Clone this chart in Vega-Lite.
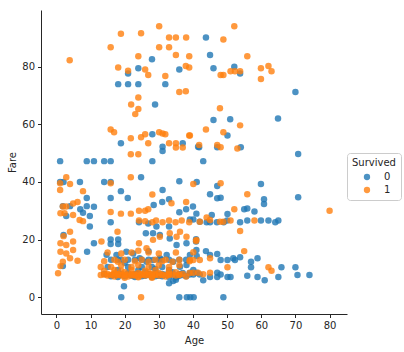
{
"$schema": "https://vega.github.io/schema/vega-lite/v6.json",
"autosize": "none",
"width": 306, "height": 304,
"padding": {"left": 41, "top": 10, "right": 57, "bottom": 38},
"config": {"font": "DejaVu Sans", "view": {"stroke": null}},
"data": {"values": [
{"Age":28,"Fare":82.5,"Survived":"0"},{"Age":21,"Fare":77.6,"Survived":"0"},{"Age":24,"Fare":79.4,"Survived":"0"},{"Age":36,"Fare":79,"Survived":"0"},{"Age":18.1,"Fare":73.9,"Survived":"0"},{"Age":21,"Fare":73.9,"Survived":"0"},{"Age":24,"Fare":73.9,"Survived":"0"},{"Age":31.9,"Fare":73.9,"Survived":"0"},{"Age":28.9,"Fare":66.8,"Survived":"0"},{"Age":43.8,"Fare":90.1,"Survived":"0"},{"Age":45,"Fare":84,"Survived":"0"},{"Age":46,"Fare":79.4,"Survived":"0"},{"Age":52.1,"Fare":79.9,"Survived":"0"},{"Age":53.8,"Fare":77.6,"Survived":"0"},{"Age":70,"Fare":71.2,"Survived":"0"},
{"Age":18.9,"Fare":53.4,"Survived":"0"},{"Age":28.1,"Fare":56.5,"Survived":"0"},{"Age":31.1,"Fare":52.2,"Survived":"0"},{"Age":31.1,"Fare":50.7,"Survived":"0"},{"Age":37,"Fare":53.4,"Survived":"0"},{"Age":41.5,"Fare":52.2,"Survived":"0"},{"Age":1.1,"Fare":47.2,"Survived":"0"},{"Age":8.9,"Fare":47.2,"Survived":"0"},{"Age":11,"Fare":47.2,"Survived":"0"},{"Age":14,"Fare":47.2,"Survived":"0"},{"Age":15.9,"Fare":47.2,"Survived":"0"},{"Age":28.1,"Fare":47.2,"Survived":"0"},{"Age":24.8,"Fare":41.6,"Survived":"0"},{"Age":1.1,"Fare":40,"Survived":"0"},{"Age":2.1,"Fare":40,"Survived":"0"},{"Age":6.9,"Fare":40,"Survived":"0"},{"Age":14,"Fare":40,"Survived":"0"},{"Age":15.9,"Fare":40,"Survived":"0"},{"Age":18.9,"Fare":36.8,"Survived":"0"},{"Age":8.9,"Fare":34.4,"Survived":"0"},{"Age":15.9,"Fare":34.4,"Survived":"0"},{"Age":20.9,"Fare":34.4,"Survived":"0"},{"Age":31.1,"Fare":37.2,"Survived":"0"},{"Age":36,"Fare":40.2,"Survived":"0"},{"Age":41.1,"Fare":40,"Survived":"0"},
{"Age":46,"Fare":61.5,"Survived":"0"},{"Age":50.9,"Fare":61.7,"Survived":"0"},{"Age":64.9,"Fare":62,"Survived":"0"},{"Age":50.1,"Fare":56.1,"Survived":"0"},{"Age":41.8,"Fare":52,"Survived":"0"},{"Age":47.1,"Fare":52,"Survived":"0"},{"Age":54,"Fare":52,"Survived":"0"},{"Age":70.8,"Fare":49.7,"Survived":"0"},{"Age":43,"Fare":47.2,"Survived":"0"},{"Age":47.1,"Fare":38.6,"Survived":"0"},{"Age":59.9,"Fare":39.3,"Survived":"0"},{"Age":45,"Fare":35.7,"Survived":"0"},{"Age":47.1,"Fare":34.3,"Survived":"0"},{"Age":48.1,"Fare":34.5,"Survived":"0"},{"Age":60.8,"Fare":34,"Survived":"0"},{"Age":70.8,"Fare":34.7,"Survived":"0"},
{"Age":60.8,"Fare":32.3,"Survived":"0"},{"Age":55,"Fare":30.5,"Survived":"0"},{"Age":55.9,"Fare":30.8,"Survived":"0"},{"Age":58,"Fare":29.7,"Survived":"0"},{"Age":45.5,"Fare":28.5,"Survived":"0"},{"Age":50.1,"Fare":28.9,"Survived":"0"},
{"Age":39.1,"Fare":27,"Survived":"0"},{"Age":40.1,"Fare":27,"Survived":"0"},{"Age":42,"Fare":26.2,"Survived":"0"},{"Age":44,"Fare":26,"Survived":"0"},{"Age":45,"Fare":26,"Survived":"0"},{"Age":47,"Fare":26,"Survived":"0"},{"Age":49,"Fare":26,"Survived":"0"},{"Age":50,"Fare":26.6,"Survived":"0"},{"Age":53.8,"Fare":26,"Survived":"0"},{"Age":55.9,"Fare":26.6,"Survived":"0"},{"Age":59.9,"Fare":26.6,"Survived":"0"},{"Age":62.1,"Fare":26.6,"Survived":"0"},{"Age":64.1,"Fare":26,"Survived":"0"},{"Age":65,"Fare":26.6,"Survived":"0"},
{"Age":40.9,"Fare":20.1,"Survived":"0"},{"Age":40.9,"Fare":19.3,"Survived":"0"},
{"Age":39.1,"Fare":14.7,"Survived":"0"},{"Age":41.1,"Fare":14.3,"Survived":"0"},{"Age":43.8,"Fare":16,"Survived":"0"},{"Age":45,"Fare":14.7,"Survived":"0"},{"Age":47.1,"Fare":15,"Survived":"0"},{"Age":48.1,"Fare":12.9,"Survived":"0"},{"Age":50.1,"Fare":12.9,"Survived":"0"},{"Age":51.8,"Fare":13.5,"Survived":"0"},{"Age":52.3,"Fare":12.9,"Survived":"0"},{"Age":53.8,"Fare":13.9,"Survived":"0"},{"Age":57,"Fare":12.3,"Survived":"0"},{"Age":57,"Fare":10.4,"Survived":"0"},{"Age":58.9,"Fare":13.5,"Survived":"0"},{"Age":65.9,"Fare":10.4,"Survived":"0"},{"Age":70,"Fare":10.4,"Survived":"0"},
{"Age":39.1,"Fare":8.5,"Survived":"0"},{"Age":40.1,"Fare":7.9,"Survived":"0"},{"Age":41.1,"Fare":8.5,"Survived":"0"},{"Age":42,"Fare":7.9,"Survived":"0"},{"Age":43,"Fare":5.9,"Survived":"0"},{"Age":45,"Fare":7,"Survived":"0"},{"Age":47.1,"Fare":8.5,"Survived":"0"},{"Age":47.1,"Fare":7,"Survived":"0"},{"Age":48.1,"Fare":7.9,"Survived":"0"},{"Age":50.1,"Fare":7,"Survived":"0"},{"Age":51,"Fare":7,"Survived":"0"},{"Age":55.9,"Fare":7.5,"Survived":"0"},{"Age":58.9,"Fare":7,"Survived":"0"},{"Age":61,"Fare":5.9,"Survived":"0"},{"Age":65,"Fare":7,"Survived":"0"},{"Age":70.6,"Fare":7.75,"Survived":"0"},{"Age":74.1,"Fare":7.75,"Survived":"0"},
{"Age":19,"Fare":0,"Survived":"0"},{"Age":36,"Fare":0,"Survived":"0"},{"Age":38.2,"Fare":0,"Survived":"0"},{"Age":39.2,"Fare":0,"Survived":"0"},{"Age":40.2,"Fare":0,"Survived":"0"},{"Age":48.9,"Fare":0,"Survived":"0"},{"Age":19.8,"Fare":3.8,"Survived":"0"},{"Age":33,"Fare":4.9,"Survived":"0"},{"Age":34.2,"Fare":5.6,"Survived":"0"},{"Age":35,"Fare":6.1,"Survived":"0"},
{"Age":1.9,"Fare":31.6,"Survived":"0"},{"Age":4,"Fare":31.6,"Survived":"0"},{"Age":7,"Fare":30.5,"Survived":"0"},{"Age":8.9,"Fare":31.6,"Survived":"0"},{"Age":11,"Fare":31.4,"Survived":"0"},{"Age":2.9,"Fare":28.2,"Survived":"0"},{"Age":7.8,"Fare":29.3,"Survived":"0"},{"Age":9.8,"Fare":28.2,"Survived":"0"},{"Age":9.8,"Fare":24.5,"Survived":"0"},{"Age":2.1,"Fare":21.6,"Survived":"0"},{"Age":11,"Fare":18.7,"Survived":"0"},{"Age":9,"Fare":15.8,"Survived":"0"},{"Age":1.9,"Fare":10.8,"Survived":"0"},
{"Age":15.9,"Fare":26,"Survived":"0"},{"Age":24.2,"Fare":26,"Survived":"0"},{"Age":15.9,"Fare":20,"Survived":"0"},{"Age":18.1,"Fare":20,"Survived":"0"},{"Age":15.9,"Fare":18.5,"Survived":"0"},{"Age":18.1,"Fare":18.5,"Survived":"0"},
{"Age":26.9,"Fare":25.6,"Survived":"0"},{"Age":29.3,"Fare":24.5,"Survived":"0"},{"Age":33,"Fare":24.5,"Survived":"0"},{"Age":26.2,"Fare":22.2,"Survived":"0"},{"Age":28.3,"Fare":22.2,"Survived":"0"},{"Age":30.3,"Fare":21.6,"Survived":"0"},{"Age":33.2,"Fare":20.4,"Survived":"0"},{"Age":35.2,"Fare":18.1,"Survived":"0"},{"Age":38.1,"Fare":18.7,"Survived":"0"},{"Age":41,"Fare":16.4,"Survived":"0"},
{"Age":28.5,"Fare":32,"Survived":"0"},{"Age":31,"Fare":33,"Survived":"0"},{"Age":33,"Fare":34,"Survived":"0"},{"Age":36,"Fare":29.5,"Survived":"0"},{"Age":38,"Fare":30.5,"Survived":"0"},{"Age":40,"Fare":31.5,"Survived":"0"},{"Age":41,"Fare":29,"Survived":"0"},
{"Age":14.7,"Fare":14.7,"Survived":"0"},{"Age":17.6,"Fare":14.7,"Survived":"0"},{"Age":20.5,"Fare":15.8,"Survived":"0"},{"Age":22.5,"Fare":15.2,"Survived":"0"},{"Age":24.4,"Fare":13.5,"Survived":"0"},{"Age":26.4,"Fare":12.3,"Survived":"0"},{"Age":28.3,"Fare":12.9,"Survived":"0"},{"Age":30.3,"Fare":13.5,"Survived":"0"},{"Age":32.3,"Fare":14.7,"Survived":"0"},{"Age":34.2,"Fare":12.3,"Survived":"0"},{"Age":36.2,"Fare":10.6,"Survived":"0"},{"Age":38.1,"Fare":11.2,"Survived":"0"},{"Age":40.1,"Fare":9.5,"Survived":"0"},{"Age":35.2,"Fare":6.9,"Survived":"0"},
{"Age":16,"Fare":7.25,"Survived":"0"},{"Age":18,"Fare":7.05,"Survived":"0"},{"Age":20,"Fare":7.25,"Survived":"0"},{"Age":22,"Fare":7.5,"Survived":"0"},{"Age":23,"Fare":7.05,"Survived":"0"},{"Age":25,"Fare":7.25,"Survived":"0"},{"Age":26,"Fare":7.5,"Survived":"0"},{"Age":28,"Fare":7.05,"Survived":"0"},{"Age":29,"Fare":7.25,"Survived":"0"},{"Age":30,"Fare":7.5,"Survived":"0"},{"Age":31,"Fare":7.25,"Survived":"0"},{"Age":33,"Fare":7.05,"Survived":"0"},{"Age":35,"Fare":7.25,"Survived":"0"},{"Age":36,"Fare":7.5,"Survived":"0"},{"Age":38,"Fare":7.25,"Survived":"0"},
{"Age":17,"Fare":7.9,"Survived":"0"},{"Age":19,"Fare":7.85,"Survived":"0"},{"Age":21,"Fare":7.9,"Survived":"0"},{"Age":22.5,"Fare":7.75,"Survived":"0"},{"Age":24,"Fare":7.9,"Survived":"0"},{"Age":25.5,"Fare":7.85,"Survived":"0"},{"Age":27,"Fare":7.9,"Survived":"0"},{"Age":28.5,"Fare":7.75,"Survived":"0"},{"Age":30,"Fare":7.9,"Survived":"0"},{"Age":32,"Fare":7.85,"Survived":"0"},{"Age":34,"Fare":7.9,"Survived":"0"},{"Age":37,"Fare":7.75,"Survived":"0"},{"Age":39,"Fare":7.9,"Survived":"0"},
{"Age":14,"Fare":8.05,"Survived":"0"},{"Age":19,"Fare":8.05,"Survived":"0"},{"Age":21,"Fare":8.45,"Survived":"0"},{"Age":23,"Fare":8.05,"Survived":"0"},{"Age":26,"Fare":8.66,"Survived":"0"},{"Age":27,"Fare":8.05,"Survived":"0"},{"Age":29,"Fare":8.45,"Survived":"0"},{"Age":31,"Fare":8.05,"Survived":"0"},{"Age":34,"Fare":8.66,"Survived":"0"},{"Age":36,"Fare":8.05,"Survived":"0"},{"Age":37,"Fare":8.45,"Survived":"0"},
{"Age":18,"Fare":9.5,"Survived":"0"},{"Age":24,"Fare":9.5,"Survived":"0"},{"Age":29,"Fare":9.8,"Survived":"0"},{"Age":33,"Fare":9.5,"Survived":"0"},
{"Age":15,"Fare":10.5,"Survived":"0"},{"Age":21,"Fare":10.5,"Survived":"0"},{"Age":25,"Fare":10.5,"Survived":"0"},{"Age":28,"Fare":10.5,"Survived":"0"},{"Age":31,"Fare":10.5,"Survived":"0"},
{"Age":16,"Fare":13,"Survived":"0"},{"Age":18,"Fare":13,"Survived":"0"},{"Age":19,"Fare":13,"Survived":"0"},{"Age":21,"Fare":13,"Survived":"0"},{"Age":23,"Fare":13,"Survived":"0"},{"Age":25,"Fare":13,"Survived":"0"},{"Age":27,"Fare":13,"Survived":"0"},{"Age":30,"Fare":13,"Survived":"0"},{"Age":31,"Fare":13,"Survived":"0"},{"Age":33,"Fare":13,"Survived":"0"},{"Age":36,"Fare":13,"Survived":"0"},{"Age":38,"Fare":13,"Survived":"0"},{"Age":20,"Fare":12,"Survived":"0"},{"Age":27,"Fare":16,"Survived":"0"},

{"Age":3.9,"Fare":82.2,"Survived":"1"},{"Age":18.9,"Fare":91.4,"Survived":"1"},{"Age":24.8,"Fare":91.5,"Survived":"1"},{"Age":15.9,"Fare":86.7,"Survived":"1"},{"Age":30.1,"Fare":94,"Survived":"1"},{"Age":33,"Fare":90.1,"Survived":"1"},{"Age":35,"Fare":90.1,"Survived":"1"},{"Age":38,"Fare":90.1,"Survived":"1"},{"Age":30.1,"Fare":86.7,"Survived":"1"},{"Age":33,"Fare":86.7,"Survived":"1"},{"Age":24,"Fare":83.6,"Survived":"1"},{"Age":35,"Fare":84,"Survived":"1"},{"Age":38.9,"Fare":83.6,"Survived":"1"},{"Age":18.1,"Fare":79.7,"Survived":"1"},{"Age":21,"Fare":78.5,"Survived":"1"},{"Age":26,"Fare":79,"Survived":"1"},{"Age":26.9,"Fare":77.1,"Survived":"1"},{"Age":31.9,"Fare":76.7,"Survived":"1"},{"Age":37.9,"Fare":80.2,"Survived":"1"},{"Age":38.9,"Fare":79.7,"Survived":"1"},{"Age":36,"Fare":71.2,"Survived":"1"},{"Age":37.9,"Fare":71.4,"Survived":"1"},{"Age":24,"Fare":69.3,"Survived":"1"},{"Age":21.9,"Fare":66.8,"Survived":"1"},{"Age":24,"Fare":65.3,"Survived":"1"},
{"Age":52.1,"Fare":94,"Survived":"1"},{"Age":48.9,"Fare":89.4,"Survived":"1"},{"Age":55.9,"Fare":83.6,"Survived":"1"},{"Age":48.1,"Fare":77.1,"Survived":"1"},{"Age":48.9,"Fare":77.1,"Survived":"1"},{"Age":51,"Fare":78.4,"Survived":"1"},{"Age":52.3,"Fare":78.4,"Survived":"1"},{"Age":53.8,"Fare":78.4,"Survived":"1"},{"Age":59.9,"Fare":79.4,"Survived":"1"},{"Age":62.1,"Fare":80.2,"Survived":"1"},{"Age":63,"Fare":78.4,"Survived":"1"},{"Age":59.9,"Fare":75.7,"Survived":"1"},{"Age":47.9,"Fare":65.5,"Survived":"1"},
{"Age":23.1,"Fare":63.5,"Survived":"1"},{"Age":15.9,"Fare":58.2,"Survived":"1"},{"Age":16.9,"Fare":57.2,"Survived":"1"},{"Age":21.8,"Fare":55.1,"Survived":"1"},{"Age":24.8,"Fare":55.5,"Survived":"1"},{"Age":26,"Fare":56.5,"Survived":"1"},{"Age":26.9,"Fare":53.4,"Survived":"1"},{"Age":30.1,"Fare":57.2,"Survived":"1"},{"Age":31.1,"Fare":56.8,"Survived":"1"},{"Age":31.9,"Fare":56.5,"Survived":"1"},{"Age":33,"Fare":53.4,"Survived":"1"},{"Age":35,"Fare":53.4,"Survived":"1"},{"Age":35,"Fare":51.9,"Survived":"1"},{"Age":37,"Fare":51.9,"Survived":"1"},{"Age":38.9,"Fare":56.1,"Survived":"1"},{"Age":21.8,"Fare":49.6,"Survived":"1"},{"Age":24,"Fare":49.6,"Survived":"1"},{"Age":21.8,"Fare":41.6,"Survived":"1"},{"Age":1.1,"Fare":39.5,"Survived":"1"},{"Age":1.1,"Fare":37.2,"Survived":"1"},{"Age":2.9,"Fare":41.6,"Survived":"1"},{"Age":4,"Fare":39.3,"Survived":"1"},{"Age":15.9,"Fare":39.5,"Survived":"1"},{"Age":7.8,"Fare":36.8,"Survived":"1"},{"Age":28.1,"Fare":35.6,"Survived":"1"},{"Age":40.1,"Fare":39.3,"Survived":"1"},
{"Age":53.8,"Fare":59.6,"Survived":"1"},{"Age":43.8,"Fare":58.2,"Survived":"1"},{"Age":48.9,"Fare":57.2,"Survived":"1"},{"Age":39.1,"Fare":56.1,"Survived":"1"},{"Age":41.8,"Fare":52.8,"Survived":"1"},{"Age":47.1,"Fare":52.8,"Survived":"1"},{"Age":48.1,"Fare":52,"Survived":"1"},{"Age":53,"Fare":51.6,"Survived":"1"},{"Age":48.1,"Fare":39.5,"Survived":"1"},{"Age":55.9,"Fare":35.7,"Survived":"1"},
{"Age":52.1,"Fare":30.5,"Survived":"1"},{"Age":80,"Fare":30,"Survived":"1"},
{"Age":42,"Fare":26.2,"Survived":"1"},{"Age":44,"Fare":27.7,"Survived":"1"},{"Age":45,"Fare":26.8,"Survived":"1"},{"Age":47.9,"Fare":26.2,"Survived":"1"},{"Age":48.9,"Fare":26.2,"Survived":"1"},{"Age":51,"Fare":26.6,"Survived":"1"},{"Age":58,"Fare":26.6,"Survived":"1"},{"Age":53.8,"Fare":23,"Survived":"1"},{"Age":40.9,"Fare":19.5,"Survived":"1"},{"Age":40.1,"Fare":15.6,"Survived":"1"},{"Age":39.1,"Fare":12.9,"Survived":"1"},{"Age":40.1,"Fare":12.9,"Survived":"1"},{"Age":42,"Fare":12.9,"Survived":"1"},{"Age":45,"Fare":13.5,"Survived":"1"},{"Age":55,"Fare":16,"Survived":"1"},{"Age":50.1,"Fare":10.4,"Survived":"1"},{"Age":62.1,"Fare":10.4,"Survived":"1"},{"Age":63,"Fare":9.2,"Survived":"1"},{"Age":40.1,"Fare":8.5,"Survived":"1"},{"Age":41.5,"Fare":8.5,"Survived":"1"},{"Age":43,"Fare":8,"Survived":"1"},{"Age":45,"Fare":8.5,"Survived":"1"},
{"Age":1.9,"Fare":31.5,"Survived":"1"},{"Age":2.9,"Fare":31.5,"Survived":"1"},{"Age":4.9,"Fare":32.5,"Survived":"1"},{"Age":6.2,"Fare":33,"Survived":"1"},{"Age":1.2,"Fare":29.1,"Survived":"1"},{"Age":2.4,"Fare":29.1,"Survived":"1"},{"Age":4.9,"Fare":28.5,"Survived":"1"},{"Age":6.8,"Fare":26.8,"Survived":"1"},{"Age":7.8,"Fare":26.4,"Survived":"1"},{"Age":2.1,"Fare":21.2,"Survived":"1"},{"Age":4,"Fare":22.7,"Survived":"1"},{"Age":1.2,"Fare":18.7,"Survived":"1"},{"Age":2.9,"Fare":18.1,"Survived":"1"},{"Age":4.9,"Fare":19.3,"Survived":"1"},{"Age":13.2,"Fare":19.3,"Survived":"1"},{"Age":1.2,"Fare":15.8,"Survived":"1"},{"Age":2.9,"Fare":15.2,"Survived":"1"},{"Age":4.9,"Fare":16.4,"Survived":"1"},{"Age":4,"Fare":13.5,"Survived":"1"},{"Age":6.2,"Fare":12.7,"Survived":"1"},{"Age":1.9,"Fare":12.3,"Survived":"1"},{"Age":1.2,"Fare":10.8,"Survived":"1"},{"Age":0.5,"Fare":8.3,"Survived":"1"},
{"Age":15.9,"Fare":29.6,"Survived":"1"},{"Age":18.9,"Fare":29,"Survived":"1"},{"Age":21.8,"Fare":29,"Survived":"1"},{"Age":24.2,"Fare":30,"Survived":"1"},{"Age":26,"Fare":30,"Survived":"1"},{"Age":26.9,"Fare":30.5,"Survived":"1"},{"Age":33.7,"Fare":32.6,"Survived":"1"},{"Age":38,"Fare":33,"Survived":"1"},
{"Age":24.2,"Fare":26.6,"Survived":"1"},{"Age":26,"Fare":26.4,"Survived":"1"},{"Age":28.1,"Fare":26,"Survived":"1"},{"Age":29.2,"Fare":26.6,"Survived":"1"},{"Age":31.1,"Fare":26,"Survived":"1"},{"Age":33,"Fare":26.6,"Survived":"1"},{"Age":34.9,"Fare":26,"Survived":"1"},{"Age":36.7,"Fare":26.6,"Survived":"1"},{"Age":38.9,"Fare":26,"Survived":"1"},{"Age":17.9,"Fare":22.7,"Survived":"1"},
{"Age":24.2,"Fare":18.7,"Survived":"1"},{"Age":26.4,"Fare":17,"Survived":"1"},{"Age":28.3,"Fare":19.9,"Survived":"1"},{"Age":30.3,"Fare":21,"Survived":"1"},{"Age":33.2,"Fare":22.2,"Survived":"1"},{"Age":35.2,"Fare":21,"Survived":"1"},{"Age":36.2,"Fare":22.7,"Survived":"1"},{"Age":38.1,"Fare":21,"Survived":"1"},{"Age":41,"Fare":19.9,"Survived":"1"},
{"Age":24.8,"Fare":0,"Survived":"1"},
{"Age":13,"Fare":7.75,"Survived":"1"},{"Age":15,"Fare":7.55,"Survived":"1"},{"Age":16,"Fare":7.75,"Survived":"1"},{"Age":17,"Fare":7.23,"Survived":"1"},{"Age":18,"Fare":7.75,"Survived":"1"},{"Age":19,"Fare":7.55,"Survived":"1"},{"Age":20,"Fare":7.75,"Survived":"1"},{"Age":21,"Fare":7.23,"Survived":"1"},{"Age":22,"Fare":7.75,"Survived":"1"},{"Age":22.5,"Fare":7.55,"Survived":"1"},{"Age":23,"Fare":7.75,"Survived":"1"},{"Age":24,"Fare":7.23,"Survived":"1"},{"Age":25,"Fare":7.75,"Survived":"1"},{"Age":26,"Fare":7.55,"Survived":"1"},{"Age":27,"Fare":7.75,"Survived":"1"},{"Age":28,"Fare":7.23,"Survived":"1"},{"Age":29,"Fare":7.75,"Survived":"1"},{"Age":30,"Fare":7.55,"Survived":"1"},{"Age":31,"Fare":7.75,"Survived":"1"},{"Age":32,"Fare":7.23,"Survived":"1"},{"Age":33,"Fare":7.75,"Survived":"1"},{"Age":35,"Fare":7.55,"Survived":"1"},{"Age":36,"Fare":7.75,"Survived":"1"},{"Age":38,"Fare":7.23,"Survived":"1"},
{"Age":14,"Fare":7.9,"Survived":"1"},{"Age":16.5,"Fare":7.9,"Survived":"1"},{"Age":18,"Fare":7.9,"Survived":"1"},{"Age":19.5,"Fare":7.9,"Survived":"1"},{"Age":21,"Fare":7.9,"Survived":"1"},{"Age":23,"Fare":7.9,"Survived":"1"},{"Age":24.5,"Fare":7.9,"Survived":"1"},{"Age":26,"Fare":7.9,"Survived":"1"},{"Age":27.5,"Fare":7.9,"Survived":"1"},{"Age":29,"Fare":7.9,"Survived":"1"},{"Age":31,"Fare":7.9,"Survived":"1"},{"Age":32.5,"Fare":7.9,"Survived":"1"},{"Age":34,"Fare":7.9,"Survived":"1"},{"Age":36,"Fare":7.9,"Survived":"1"},
{"Age":15,"Fare":8.05,"Survived":"1"},{"Age":17,"Fare":8.45,"Survived":"1"},{"Age":18,"Fare":8.05,"Survived":"1"},{"Age":20,"Fare":8.66,"Survived":"1"},{"Age":22,"Fare":8.05,"Survived":"1"},{"Age":24,"Fare":8.45,"Survived":"1"},{"Age":25,"Fare":8.05,"Survived":"1"},{"Age":27,"Fare":8.66,"Survived":"1"},{"Age":28,"Fare":8.05,"Survived":"1"},{"Age":30,"Fare":8.45,"Survived":"1"},{"Age":33,"Fare":8.05,"Survived":"1"},{"Age":35,"Fare":8.66,"Survived":"1"},{"Age":37,"Fare":8.05,"Survived":"1"},{"Age":39,"Fare":8.45,"Survived":"1"},
{"Age":14,"Fare":9.2,"Survived":"1"},{"Age":17,"Fare":9.5,"Survived":"1"},{"Age":19,"Fare":9.2,"Survived":"1"},{"Age":22,"Fare":9.5,"Survived":"1"},{"Age":26,"Fare":9.2,"Survived":"1"},{"Age":29,"Fare":9.5,"Survived":"1"},{"Age":33,"Fare":9.2,"Survived":"1"},
{"Age":13,"Fare":10.5,"Survived":"1"},{"Age":16,"Fare":10.5,"Survived":"1"},{"Age":19,"Fare":11.1,"Survived":"1"},{"Age":22,"Fare":10.5,"Survived":"1"},{"Age":24,"Fare":11.1,"Survived":"1"},{"Age":27,"Fare":10.5,"Survived":"1"},{"Age":30,"Fare":11.1,"Survived":"1"},{"Age":33,"Fare":10.5,"Survived":"1"},{"Age":36,"Fare":11.1,"Survived":"1"},
{"Age":14,"Fare":12.5,"Survived":"1"},{"Age":17,"Fare":13,"Survived":"1"},{"Age":18,"Fare":12.3,"Survived":"1"},{"Age":20,"Fare":13,"Survived":"1"},{"Age":23,"Fare":12.5,"Survived":"1"},{"Age":25,"Fare":13,"Survived":"1"},{"Age":27,"Fare":12.3,"Survived":"1"},{"Age":29,"Fare":13,"Survived":"1"},{"Age":31,"Fare":12.5,"Survived":"1"},{"Age":32,"Fare":13,"Survived":"1"},{"Age":34,"Fare":12.3,"Survived":"1"},{"Age":36,"Fare":13,"Survived":"1"},{"Age":39,"Fare":12.5,"Survived":"1"},
{"Age":15,"Fare":15.5,"Survived":"1"},{"Age":19,"Fare":15.2,"Survived":"1"},{"Age":22,"Fare":15.5,"Survived":"1"},{"Age":24,"Fare":16.1,"Survived":"1"},{"Age":27,"Fare":15.5,"Survived":"1"},{"Age":30,"Fare":15.2,"Survived":"1"},{"Age":35,"Fare":15.5,"Survived":"1"},
{"Age":20,"Fare":6.8,"Survived":"1"},{"Age":24,"Fare":6.9,"Survived":"1"},{"Age":28,"Fare":6.8,"Survived":"1"}
]},
"mark": {"type": "point", "filled": true, "size": 42, "opacity": 0.8, "strokeWidth": 0},
"encoding": {
"x": {"field": "Age", "type": "quantitative", "scale": {"domain": [-4.5, 85.1], "nice": false, "zero": false},
  "axis": {"values": [0,10,20,30,40,50,60,70,80], "labelOverlap": false, "grid": false, "title": "Age", "domainColor": "#262626", "tickColor": "#262626", "labelColor": "#262626", "titleColor": "#262626", "labelFontSize": 10, "titleFontSize": 10, "titleFontWeight": "normal", "tickSize": 3.5, "labelPadding": 3, "titlePadding": 5}},
"y": {"field": "Fare", "type": "quantitative", "scale": {"domain": [-5.8, 99.6], "nice": false, "zero": false},
  "axis": {"values": [0,20,40,60,80], "labelOverlap": false, "grid": false, "title": "Fare", "domainColor": "#262626", "tickColor": "#262626", "labelColor": "#262626", "titleColor": "#262626", "labelFontSize": 10, "titleFontSize": 10, "titleFontWeight": "normal", "tickSize": 3.5, "labelPadding": 3, "titlePadding": 4}},
"color": {"field": "Survived", "type": "nominal", "scale": {"domain": ["0", "1"], "range": ["#1f77b4", "#ff7f0e"]},
  "legend": {"orient": "none", "legendX": 306, "legendY": 143, "title": "Survived", "titleFontSize": 10, "titleFontWeight": "normal", "titleColor": "#262626", "labelFontSize": 10, "labelColor": "#262626", "padding": 5, "strokeColor": "#cccccc", "cornerRadius": 3, "fillColor": "white", "symbolType": "circle", "symbolSize": 40, "symbolOffset": 10, "labelOffset": 12, "rowPadding": 3, "titlePadding": 4, "symbolOpacity": 0.8}}
}
}
